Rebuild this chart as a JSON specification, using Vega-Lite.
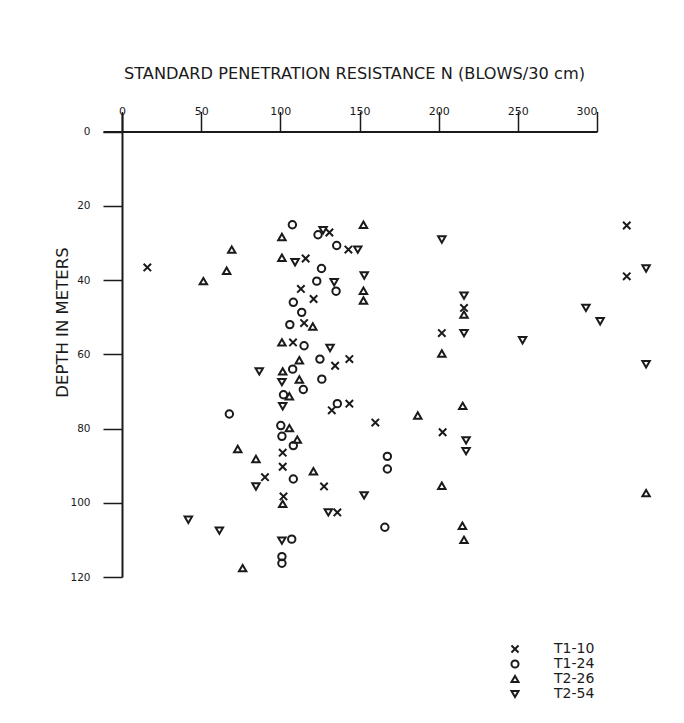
{
  "$schema": "https://vega.github.io/schema/vega-lite/v6.json",
  "autosize": "none",
  "width": 494,
  "height": 464,
  "padding": {"left": 103, "top": 113, "right": 87, "bottom": 146},
  "background": "white",
  "config": {
    "view": {"stroke": null},
    "font": "DejaVu Sans",
    "axis": {"domainColor": "#1a1a1a", "domainWidth": 2, "tickColor": "#1a1a1a", "tickWidth": 1.5, "labelColor": "#1a1a1a", "titleColor": "#1a1a1a", "grid": false, "labelFont": "DejaVu Sans", "titleFont": "DejaVu Sans", "titleFontWeight": "normal"}
  },
  "data": {"values": [
    {"n": 16, "depth": 36.6, "series": "T1-10"},
    {"n": 131, "depth": 27.2, "series": "T1-10"},
    {"n": 143, "depth": 31.8, "series": "T1-10"},
    {"n": 116, "depth": 34.2, "series": "T1-10"},
    {"n": 113, "depth": 42.4, "series": "T1-10"},
    {"n": 121, "depth": 45.1, "series": "T1-10"},
    {"n": 115, "depth": 51.6, "series": "T1-10"},
    {"n": 108, "depth": 56.8, "series": "T1-10"},
    {"n": 134.6, "depth": 63.1, "series": "T1-10"},
    {"n": 143.6, "depth": 61.3, "series": "T1-10"},
    {"n": 132.5, "depth": 75.1, "series": "T1-10"},
    {"n": 143.6, "depth": 73.3, "series": "T1-10"},
    {"n": 160, "depth": 78.4, "series": "T1-10"},
    {"n": 101.5, "depth": 86.5, "series": "T1-10"},
    {"n": 101.5, "depth": 90.3, "series": "T1-10"},
    {"n": 90.3, "depth": 93.1, "series": "T1-10"},
    {"n": 127.6, "depth": 95.6, "series": "T1-10"},
    {"n": 102, "depth": 98.3, "series": "T1-10"},
    {"n": 136, "depth": 102.6, "series": "T1-10"},
    {"n": 318.8, "depth": 25.3, "series": "T1-10"},
    {"n": 318.8, "depth": 39, "series": "T1-10"},
    {"n": 216, "depth": 47.5, "series": "T1-10"},
    {"n": 202, "depth": 54.3, "series": "T1-10"},
    {"n": 202.5, "depth": 81, "series": "T1-10"},
    {"n": 107.6, "depth": 25.1, "series": "T1-24"},
    {"n": 123.8, "depth": 27.8, "series": "T1-24"},
    {"n": 135.6, "depth": 30.7, "series": "T1-24"},
    {"n": 126, "depth": 36.9, "series": "T1-24"},
    {"n": 123, "depth": 40.3, "series": "T1-24"},
    {"n": 135.2, "depth": 43, "series": "T1-24"},
    {"n": 108.2, "depth": 46, "series": "T1-24"},
    {"n": 113.5, "depth": 48.7, "series": "T1-24"},
    {"n": 106, "depth": 52, "series": "T1-24"},
    {"n": 115, "depth": 57.7, "series": "T1-24"},
    {"n": 125, "depth": 61.3, "series": "T1-24"},
    {"n": 107.8, "depth": 64, "series": "T1-24"},
    {"n": 126.2, "depth": 66.7, "series": "T1-24"},
    {"n": 114.5, "depth": 69.5, "series": "T1-24"},
    {"n": 102, "depth": 70.9, "series": "T1-24"},
    {"n": 136, "depth": 73.3, "series": "T1-24"},
    {"n": 67.8, "depth": 76.1, "series": "T1-24"},
    {"n": 100.3, "depth": 79.2, "series": "T1-24"},
    {"n": 101, "depth": 82.1, "series": "T1-24"},
    {"n": 108.2, "depth": 84.6, "series": "T1-24"},
    {"n": 108.2, "depth": 93.6, "series": "T1-24"},
    {"n": 167.6, "depth": 87.5, "series": "T1-24"},
    {"n": 167.6, "depth": 90.9, "series": "T1-24"},
    {"n": 166, "depth": 106.6, "series": "T1-24"},
    {"n": 107.2, "depth": 109.8, "series": "T1-24"},
    {"n": 101, "depth": 114.5, "series": "T1-24"},
    {"n": 101, "depth": 116.3, "series": "T1-24"},
    {"n": 101, "depth": 28.4, "series": "T2-26"},
    {"n": 152.5, "depth": 25.1, "series": "T2-26"},
    {"n": 69.3, "depth": 31.8, "series": "T2-26"},
    {"n": 66.1, "depth": 37.5, "series": "T2-26"},
    {"n": 51.4, "depth": 40.3, "series": "T2-26"},
    {"n": 101, "depth": 34, "series": "T2-26"},
    {"n": 152.5, "depth": 42.9, "series": "T2-26"},
    {"n": 152.5, "depth": 45.5, "series": "T2-26"},
    {"n": 120.5, "depth": 52.5, "series": "T2-26"},
    {"n": 101, "depth": 56.8, "series": "T2-26"},
    {"n": 112, "depth": 61.6, "series": "T2-26"},
    {"n": 101.5, "depth": 64.6, "series": "T2-26"},
    {"n": 112, "depth": 66.8, "series": "T2-26"},
    {"n": 105.7, "depth": 71.3, "series": "T2-26"},
    {"n": 105.7, "depth": 79.9, "series": "T2-26"},
    {"n": 110.7, "depth": 83, "series": "T2-26"},
    {"n": 73.1, "depth": 85.5, "series": "T2-26"},
    {"n": 84.6, "depth": 88.2, "series": "T2-26"},
    {"n": 120.9, "depth": 91.5, "series": "T2-26"},
    {"n": 101.5, "depth": 100.3, "series": "T2-26"},
    {"n": 76.2, "depth": 117.6, "series": "T2-26"},
    {"n": 216, "depth": 49.3, "series": "T2-26"},
    {"n": 202, "depth": 59.8, "series": "T2-26"},
    {"n": 186.8, "depth": 76.5, "series": "T2-26"},
    {"n": 215.2, "depth": 73.9, "series": "T2-26"},
    {"n": 202, "depth": 95.4, "series": "T2-26"},
    {"n": 215, "depth": 106.2, "series": "T2-26"},
    {"n": 216, "depth": 110, "series": "T2-26"},
    {"n": 331, "depth": 97.4, "series": "T2-26"},
    {"n": 127, "depth": 26.6, "series": "T2-54"},
    {"n": 148.9, "depth": 31.8, "series": "T2-54"},
    {"n": 109.3, "depth": 35.2, "series": "T2-54"},
    {"n": 153, "depth": 38.8, "series": "T2-54"},
    {"n": 134, "depth": 40.6, "series": "T2-54"},
    {"n": 131.4, "depth": 58.3, "series": "T2-54"},
    {"n": 86.7, "depth": 64.6, "series": "T2-54"},
    {"n": 101, "depth": 67.5, "series": "T2-54"},
    {"n": 101.5, "depth": 74, "series": "T2-54"},
    {"n": 84.6, "depth": 95.6, "series": "T2-54"},
    {"n": 152.9, "depth": 98, "series": "T2-54"},
    {"n": 130.3, "depth": 102.6, "series": "T2-54"},
    {"n": 41.9, "depth": 104.6, "series": "T2-54"},
    {"n": 61.5, "depth": 107.5, "series": "T2-54"},
    {"n": 101, "depth": 110.2, "series": "T2-54"},
    {"n": 202, "depth": 29.1, "series": "T2-54"},
    {"n": 216, "depth": 44.2, "series": "T2-54"},
    {"n": 216, "depth": 54.3, "series": "T2-54"},
    {"n": 253, "depth": 56.2, "series": "T2-54"},
    {"n": 293, "depth": 47.5, "series": "T2-54"},
    {"n": 302, "depth": 51.1, "series": "T2-54"},
    {"n": 331, "depth": 36.9, "series": "T2-54"},
    {"n": 331, "depth": 62.7, "series": "T2-54"},
    {"n": 217.3, "depth": 83.2, "series": "T2-54"},
    {"n": 217.3, "depth": 86.1, "series": "T2-54"}
  ]},
  "mark": {"type": "point", "filled": false, "strokeWidth": 2, "size": 55, "opacity": 1, "clip": false},
  "encoding": {
    "x": {"field": "n", "type": "quantitative",
      "scale": {"domain": [-12, 300], "nice": false, "zero": false},
      "axis": {"orient": "top", "offset": -18.5, "values": [0, 50, 100, 150, 200, 250, 300],
        "tickSize": 20, "labelPadding": -5, "labelFontSize": 11, "labelBaseline": "bottom",
        "title": "STANDARD PENETRATION RESISTANCE N (BLOWS/30 cm)", "titleFontSize": 16.2, "titlePadding": 24, "titleX": 251}},
    "y": {"field": "depth", "type": "quantitative",
      "scale": {"domain": [-5, 120], "reverse": true, "nice": false, "zero": false},
      "axis": {"orient": "left", "offset": -19, "values": [0, 20, 40, 60, 80, 100, 120],
        "tickSize": 19, "labelPadding": 13, "labelFontSize": 10.5,
        "title": "DEPTH IN METERS", "titleFontSize": 16.5, "titleBaseline": "middle", "titleX": -60, "titleY": 209}},
    "shape": {"field": "series", "type": "nominal",
      "scale": {"domain": ["T1-10", "T1-24", "T2-26", "T2-54"],
        "range": ["M-1,-1L1,1M-1,1L1,-1", "circle", "triangle-up", "triangle-down"]},
      "legend": {"orient": "none", "legendX": 405, "legendY": 529, "title": null,
        "labelFontSize": 14, "labelOffset": 32, "symbolStrokeColor": "#1a1a1a", "symbolStrokeWidth": 2,
        "symbolSize": 50, "rowPadding": -3, "labelFont": "DejaVu Sans", "labelColor": "#1a1a1a", "symbolOpacity": 1}},
    "color": {"value": "#1a1a1a"}
  }
}
